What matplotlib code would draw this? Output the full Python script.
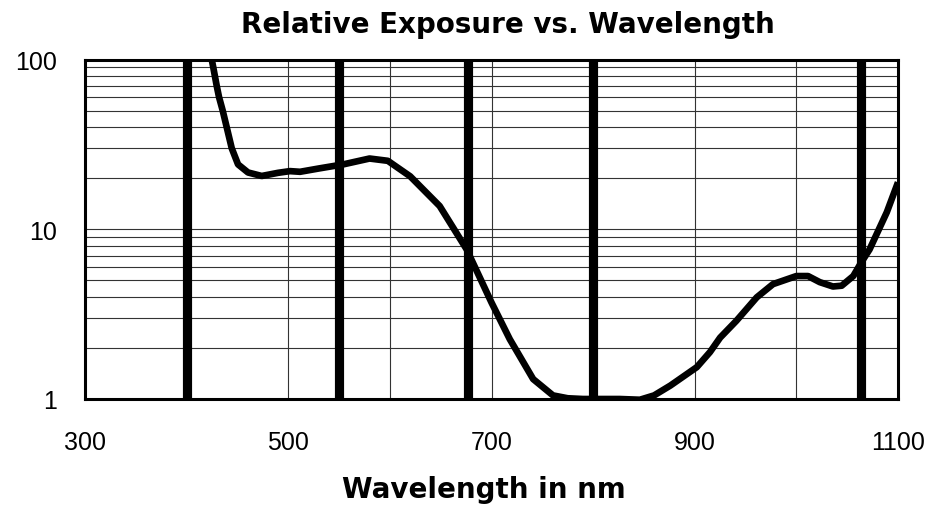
import matplotlib
matplotlib.use("Agg")
import matplotlib.pyplot as plt
from matplotlib.ticker import FixedLocator, NullFormatter

plt.rcParams['font.family'] = ['Liberation Sans', 'DejaVu Sans']

# Data
wavelength = [424.7, 426.2, 429.6, 431.9, 435.5, 439.4, 444.4, 450.6, 460.4, 473.9,
              490, 501.7, 511.6, 530, 554, 580, 598, 620, 649, 675.6,
              700, 718, 741, 760.5, 775, 790, 810, 826, 846, 860,
              876, 902, 915, 925, 941, 961, 977, 1000, 1011.5, 1023,
              1036, 1044.6, 1056, 1064, 1072, 1089, 1100]
exposure = [100, 90, 70, 60, 50, 40, 30, 24.1, 21.6, 20.6,
            21.5, 22.0, 21.8, 22.8, 24.1, 26.1, 25.3, 20.5, 13.7, 7.6,
            3.7, 2.25, 1.31, 1.05, 1.01, 1.0, 1.0, 1.0, 0.99, 1.05,
            1.2, 1.54, 1.89, 2.3, 2.89, 3.97, 4.75, 5.3, 5.3, 4.88,
            4.6, 4.65, 5.3, 6.4, 7.6, 12.6, 18.9]
marker_lines = [400, 550, 677, 800, 1064]
x_ticks = [300, 500, 700, 900, 1100]
x_grid = [400, 500, 600, 700, 800, 900, 1000]
y_ticks = [1, 10, 100]
y_tick_labels = ["1", "10", "100"]
y_grid = [2, 3, 4, 5, 6, 7, 8, 9, 10, 20, 30, 40, 50, 60, 70, 80, 90]

fig = plt.figure(figsize=(9.39, 5.10), dpi=100)
ax = fig.add_axes([85/939, 1-400/510, (898-85)/939, (400-60.5)/510])

ax.set_yscale('log')
ax.set_xlim(300, 1100)
ax.set_ylim(1, 100)

for g in x_grid:
    ax.axvline(g, color='#333333', lw=0.8, zorder=1)
for g in y_grid:
    ax.axhline(g, color='#333333', lw=0.8, zorder=1)

for m in marker_lines:
    ax.axvline(m, color='black', lw=6.6, zorder=2, solid_capstyle='butt')

ax.plot(wavelength, exposure, color='black', lw=4.8, zorder=3,
        solid_capstyle='butt', solid_joinstyle='round', clip_on=True)

ax.xaxis.set_major_locator(FixedLocator(x_ticks))
ax.yaxis.set_major_locator(FixedLocator(y_ticks))
ax.yaxis.set_minor_formatter(NullFormatter())
ax.yaxis.set_minor_locator(FixedLocator([]))
ax.set_xticklabels([str(v) for v in x_ticks])
ax.set_yticklabels(y_tick_labels)
ax.tick_params(axis='both', which='both', length=0, labelsize=18)
ax.tick_params(axis='x', pad=22)
ax.tick_params(axis='y', pad=20)

for s in ax.spines.values():
    s.set_linewidth(2.2)
    s.set_color('black')
    s.set_zorder(4)

fig.text(507.5/939, 1-25/510, "Relative Exposure vs. Wavelength",
         ha='center', va='center', fontsize=20, fontweight='bold',
         family='DejaVu Sans')
fig.text(484/939, 1-490/510, "Wavelength in nm",
         ha='center', va='center', fontsize=20, fontweight='bold',
         family='DejaVu Sans')

fig.savefig("out.png", dpi=100)
